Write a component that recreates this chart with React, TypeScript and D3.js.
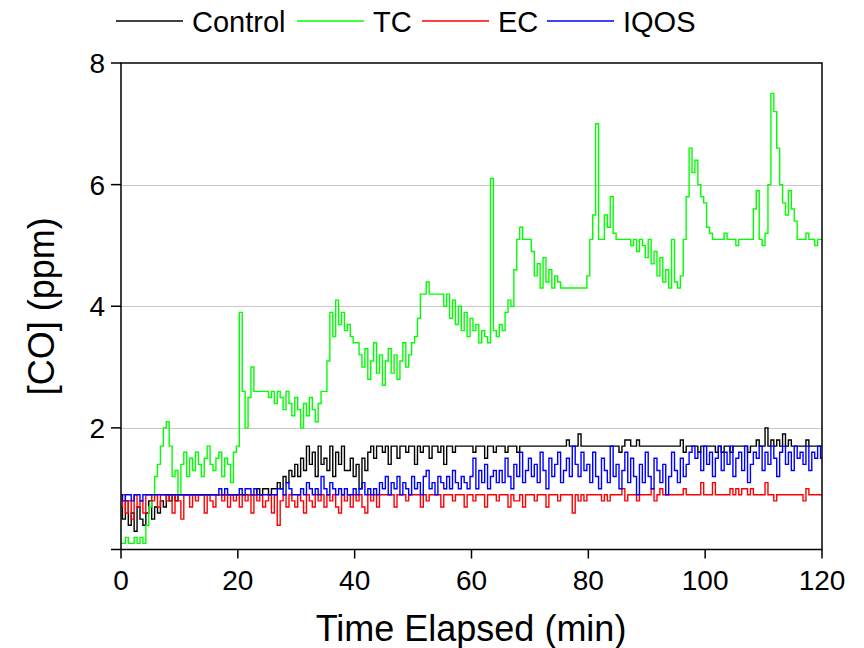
import React from "react";
import * as d3 from "d3";

// ---- data (ppm x 10), one sample every 0.5 min from 0 to 120 min ----
const sampleStepMin = 0.5;

const controlTenths = [
  7,5,8,4,6,3,7,5,4,6,8,5,7,6,8,7,9,8,9,8,
  9,9,9,9,9,9,9,9,9,9,9,9,9,9,9,9,9,9,9,9,9,9,9,9,9,9,
  9,10,9,10,10,9,10,10,
  11,10,12,11,13,12,14,12,
  15,13,17,14,
  16,12,17,14,15,13,17,12,16,14,17,13,
  13,15,12,14,10,15,13,16,
  17,15,17,17,16,17,14,17,17,15,17,17,16,17,17,14,17,16,17,17,15,17,17,16,17,14,17,17,16,17,
  17,17,17,17,17,16,17,17,17,15,17,17,16,17,17,17,16,17,17,17,16,17,
  17,17,17,17,17,17,17,17,17,17,
  17,17,17,17,17,18,17,17,17,19,
  17,17,17,17,17,17,17,17,17,17,
  17,17,17,16,17,18,18,17,17,18,
  17,17,17,17,17,17,17,17,17,17,
  17,17,17,17,18,16,17,17,17,17,
  16,17,17,17,17,17,16,17,16,17,
  17,16,17,17,17,17,17,16,17,17,
  18,17,17,20,17,18,17,18,17,19,
  17,18,17,17,17,17,17,18,17,17,
  17,17,17,
];

const tcTenths = [
  1,1,2,1,1,2,1,2,1,4,7,9,12,14,17,20,21,17,12,13,
  9,14,16,12,15,13,16,14,12,15,17,14,13,15,16,12,15,14,11,16,
  17,39,26,20,25,30,
  26,26,26,26,26,
  25,26,24,26,25,23,26,24,22,25,23,20,24,22,25,23,21,24,26,
  26,31,39,35,41,37,39,36,37,35,34,34,32,
  30,33,28,31,34,29,32,27,31,33,29,32,28,31,34,30,32,
  34,35,38,42,42,44,42,42,42,42,42,
  40,42,38,41,37,40,36,39,35,38,36,37,34,36,35,
  34,61,36,35,37,36,39,41,40,46,51,53,51,51,51,49,
  45,47,43,48,44,46,43,45,44,43,
  43,43,43,43,43,43,43,43,
  45,51,55,70,51,51,55,53,58,52,
  51,51,51,51,51,
  50,51,49,51,50,48,51,
  47,49,45,48,44,46,43,51,44,43,
  45,51,58,66,62,64,60,58,57,53,52,
  51,51,51,51,52,51,51,51,50,51,51,51,51,
  51,56,59,51,50,52,60,75,72,66,60,57,55,59,56,54,51,
  51,51,52,51,51,50,51,51,
];

const ecTenths = [
  7,9,6,8,5,9,7,8,6,9,
  9,8,9,7,9,9,8,9,6,9,
  8,5,9,9,7,9,8,9,9,6,
  9,8,7,9,9,8,9,7,9,8,
  9,7,9,8,9,6,9,8,9,7,
  8,9,6,9,4,8,9,7,9,8,
  7,9,8,6,9,8,7,9,8,9,
  7,9,8,9,7,6,9,8,9,7,
  9,8,9,7,6,9,8,9,7,9,
  9,9,9,9,7,9,9,9,8,9,
  9,9,9,7,9,8,9,9,9,9,
  7,9,9,9,8,9,9,9,7,9,
  9,8,9,9,9,7,9,9,9,8,
  9,9,9,7,9,8,8,9,7,9,
  9,9,8,9,9,9,7,9,9,9,
  8,9,9,9,9,6,
  9,8,9,8,9,9,9,9,9,8,
  9,8,9,9,9,9,10,8,9,9,
  9,8,9,9,9,9,10,8,9,10,
  9,9,9,9,9,9,9,10,9,9,
  9,9,9,11,9,9,9,11,9,9,
  9,9,9,10,9,10,9,10,10,9,
  10,9,9,9,9,11,9,9,8,9,
  9,9,9,9,9,9,9,9,8,10,
  9,9,9,9,9,
];

const iqosTenths = [
  9,8,9,9,8,9,9,8,9,9,
  9,9,9,9,9,9,9,9,9,9,9,9,9,9,9,9,9,9,9,9,9,9,9,9,
  10,9,10,
  9,9,9,9,
  10,9,10,10,9,10,
  9,9,9,9,9,9,9,10,
  10,9,11,10,9,
  9,9,
  10,9,11,10,9,10,9,12,10,9,11,10,9,10,
  9,10,9,9,10,9,10,11,9,10,9,10,9,11,
  10,12,9,11,10,12,9,11,10,9,12,10,11,9,12,13,10,11,9,12,
  11,10,12,10,13,11,10,12,11,10,
  12,15,10,13,11,14,10,12,13,11,
  13,11,15,12,10,14,12,16,11,13,15,12,14,11,16,13,10,15,12,14,16,11,13,15,12,17,14,12,16,13,
  14,11,16,12,10,15,13,11,17,12,14,10,13,16,11,15,12,9,14,11,16,12,10,15,13,11,14,9,12,16,13,11,15,12,14,16,
  17,15,16,13,17,14,16,12,15,17,13,16,14,17,12,15,16,13,17,11,14,16,15,17,13,16,14,17,15,12,16,17,14,16,13,17,15,16,14,17,13,16,15,17,15,
];

const seriesNames = ["Control", "TC", "EC", "IQOS"];
const seriesColors = ["#000000", "#00ff00", "#ff0000", "#0000ff"];
const seriesData = [controlTenths, tcTenths, ecTenths, iqosTenths];

const xTicks = [0, 20, 40, 60, 80, 100, 120];
const yTicks = [0, 2, 4, 6, 8];
const yTickLabels = ["", "2", "4", "6", "8"];
const yGrid = [2, 4, 6];

const xDomain = [0, 120];
const yDomain = [0, 8];

const W = 864;
const H = 648;
const left = 121;
const right = 822;
const top = 63;
const bottom = 549.5;
const FONT = "'Liberation Sans', Arial, Helvetica, sans-serif";

// legend layout: line start x, text x
const legendLayout = [
  { lx: 116, tx: 192 },
  { lx: 297, tx: 373 },
  { lx: 422, tx: 498 },
  { lx: 547, tx: 623 },
];

export default function App() {
  const x = d3.scaleLinear().domain(xDomain).range([left, right]);
  const y = d3.scaleLinear().domain(yDomain).range([bottom, top]);

  const line = d3
    .line<number>()
    .x((_, i) => x(i * sampleStepMin))
    .y((d) => y(d / 10))
    .curve(d3.curveStep);

  return (
    <svg
      width={W}
      height={H}
      viewBox={`0 0 ${W} ${H}`}
      style={{ position: "absolute", left: 0, top: 0, background: "#fff" }}
    >
      <defs>
        <clipPath id="plotClip">
          <rect x={left} y={top} width={right - left} height={bottom - top} />
        </clipPath>
      </defs>
      <rect x={0} y={0} width={W} height={H} fill="#fff" />

      {/* grid */}
      {yGrid.map((g) => (
        <line
          key={"g" + g}
          x1={left}
          x2={right}
          y1={Math.round(y(g)) + 0.5}
          y2={Math.round(y(g)) + 0.5}
          stroke="#c8c8c8"
          strokeWidth={1}
        />
      ))}

      {/* data */}
      <g clipPath="url(#plotClip)">
        {seriesData.map((d, k) => (
          <path
            key={seriesNames[k]}
            d={line(d) || ""}
            fill="none"
            stroke={seriesColors[k]}
            strokeWidth={1.4}
          />
        ))}
      </g>

      {/* frame */}
      <rect
        x={left}
        y={top}
        width={right - left}
        height={bottom - top}
        fill="none"
        stroke="#000"
        strokeWidth={1.5}
      />

      {/* y ticks */}
      {yTicks.map((t, i) => (
        <g key={"yt" + t}>
          <line x1={left - 10} x2={left} y1={y(t)} y2={y(t)} stroke="#000" strokeWidth={1.5} />
          <text
            x={left - 16}
            y={y(t)}
            dy="0.36em"
            textAnchor="end"
            fontFamily={FONT}
            fontSize={28}
            fill="#000"
          >
            {yTickLabels[i]}
          </text>
        </g>
      ))}

      {/* x ticks */}
      {xTicks.map((t) => (
        <g key={"xt" + t}>
          <line x1={x(t)} x2={x(t)} y1={bottom} y2={bottom + 9} stroke="#000" strokeWidth={1.5} />
          <text
            x={x(t)}
            y={590}
            textAnchor="middle"
            fontFamily={FONT}
            fontSize={28}
            fill="#000"
          >
            {t}
          </text>
        </g>
      ))}

      {/* axis titles */}
      <text x={471} y={641} textAnchor="middle" fontFamily={FONT} fontSize={36} fill="#000">
        Time Elapsed (min)
      </text>
      <text
        transform={`translate(54, ${(top + bottom) / 2}) rotate(-90)`}
        textAnchor="middle"
        fontFamily={FONT}
        fontSize={36}
        fill="#000"
      >
        [CO] (ppm)
      </text>

      {/* legend */}
      {seriesNames.map((n, k) => (
        <g key={"lg" + n}>
          <line
            x1={legendLayout[k].lx}
            x2={legendLayout[k].lx + 67}
            y1={21}
            y2={21}
            stroke={seriesColors[k]}
            strokeWidth={1.3}
          />
          <text
            x={legendLayout[k].tx}
            y={32}
            fontFamily={FONT}
            fontSize={29}
            fill="#000"
          >
            {n}
          </text>
        </g>
      ))}
    </svg>
  );
}
